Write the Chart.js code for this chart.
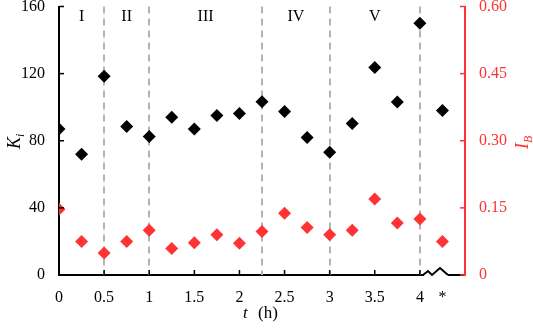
<!DOCTYPE html>
<html><head><meta charset="utf-8">
<script src="https://cdn.jsdelivr.net/npm/chart.js@4/dist/chart.umd.min.js"></script>
<style>html,body{margin:0;padding:0;background:#fff}#wrap{width:533px;height:328px}</style>
</head><body><div id="wrap"><canvas id="c" width="533" height="328"></canvas></div>
<script>
const tValues = [0,0.25,0.5,0.75,1,1.25,1.5,1.75,2,2.25,2.5,2.75,3,3.25,3.5,3.75,4,4.25];
const kiValues = [87,72,118.5,88.5,82.6,94,87,95,96.2,103.3,97.5,82,73.2,90.3,123.6,103.1,150,98];
const ibValues = [0.147,0.075,0.049,0.075,0.100,0.059,0.072,0.090,0.071,0.097,0.138,0.106,0.090,0.100,0.170,0.116,0.125,0.075];
const xTickValues = [0,0.5,1,1.5,2,2.5,3,3.5,4,4.25];
const xTickLabels = ['0','0.5','1','1.5','2','2.5','3','3.5','4','*'];
const kiTicks = [0,40,80,120,160];
const ibTicks = [0,0.15,0.30,0.45,0.60];
const ibTickLabels = ['0','0.15','0.30','0.45','0.60'];
const phaseBoundaries = [0.5,1,2.25,3,4];
const phaseCenters = [0.25,0.75,1.625,2.625,3.5];
const phaseLabels = ['I','II','III','IV','V'];

const RED = '#ff3333';
const FONT = 'Liberation Serif';

const extras = {
  id: 'extras',
  beforeDatasetsDraw(chart) {
    const {ctx, chartArea, scales} = chart;
    ctx.save();
    ctx.strokeStyle = '#b4b4b4';
    ctx.lineWidth = 2;
    ctx.setLineDash([7,5]);
    phaseBoundaries.forEach(v => {
      const x = Math.round(scales.x.getPixelForValue(v));
      ctx.beginPath(); ctx.moveTo(x, chartArea.top); ctx.lineTo(x, chartArea.bottom); ctx.stroke();
    });
    ctx.setLineDash([]);
    ctx.fillStyle = '#000';
    ctx.font = '16px "' + FONT + '"';
    ctx.textAlign = 'center'; ctx.textBaseline = 'middle';
    phaseLabels.forEach((l, i) => {
      ctx.fillText(l, scales.x.getPixelForValue(phaseCenters[i]), 17);
    });
    ctx.restore();
  },
  afterDraw(chart) {
    const {ctx, chartArea, scales} = chart;
    const b = chartArea.bottom;
    ctx.save();
    // inward ticks
    ctx.lineWidth = 1.5;
    ctx.strokeStyle = '#000';
    xTickValues.slice(0, 9).forEach(v => {
      const x = scales.x.getPixelForValue(v);
      ctx.beginPath(); ctx.moveTo(x, b); ctx.lineTo(x, b - 5); ctx.stroke();
    });
    kiTicks.forEach(v => {
      const y = scales.y.getPixelForValue(v);
      ctx.beginPath(); ctx.moveTo(chartArea.left, y); ctx.lineTo(chartArea.left + 5, y); ctx.stroke();
    });
    ctx.strokeStyle = RED;
    ibTicks.forEach(v => {
      const y = scales.y2.getPixelForValue(v);
      ctx.beginPath(); ctx.moveTo(chartArea.right, y); ctx.lineTo(chartArea.right - 5, y); ctx.stroke();
    });
    // axis break
    ctx.fillStyle = '#fff';
    ctx.fillRect(424, b - 2, 24, 4);
    ctx.strokeStyle = '#000';
    ctx.lineWidth = 2;
    ctx.beginPath();
    ctx.moveTo(423, b); ctx.lineTo(428, b - 4); ctx.lineTo(432, b); ctx.lineTo(440, b - 7); ctx.lineTo(448, b);
    ctx.stroke();
    // axis titles
    ctx.fillStyle = '#000';
    ctx.textBaseline = 'alphabetic';
    ctx.save();
    ctx.translate(20, 140);
    ctx.rotate(-Math.PI / 2);
    ctx.textAlign = 'left';
    ctx.font = 'italic 18px "' + FONT + '"';
    const kw = ctx.measureText('K').width;
    ctx.fillText('K', -kw / 2 - 3, 0);
    ctx.font = 'italic 12px "' + FONT + '"';
    ctx.fillText('i', kw / 2 - 3, 4);
    ctx.restore();

    ctx.save();
    ctx.fillStyle = RED;
    ctx.translate(528, 142);
    ctx.rotate(-Math.PI / 2);
    ctx.font = 'italic 18px "' + FONT + '"';
    const iw = ctx.measureText('I').width;
    ctx.fillText('I', -iw / 2 - 4, 0);
    ctx.font = 'italic 12px "' + FONT + '"';
    ctx.fillText('B', iw / 2 - 4, 4);
    ctx.restore();

    ctx.font = 'italic 17px "' + FONT + '"';
    ctx.textAlign = 'left';
    ctx.fillText('t', 243, 318);
    ctx.font = '17px "' + FONT + '"';
    ctx.fillText('(h)', 258, 318);
    ctx.restore();
  }
};

function noPad(s) { s.paddingTop = 0; s.paddingBottom = 0; s.paddingLeft = 0; s.paddingRight = 0; }

new Chart(document.getElementById('c'), {
  type: 'scatter',
  data: {
    datasets: [
      { label: 'Ki', data: tValues.map((t, i) => ({x: t, y: kiValues[i]})), yAxisID: 'y',
        pointStyle: 'rectRot', radius: 6.5, backgroundColor: '#000', borderColor: '#000', borderWidth: 0 },
      { label: 'IB', data: tValues.map((t, i) => ({x: t, y: ibValues[i]})), yAxisID: 'y2',
        pointStyle: 'rectRot', radius: 6.5, backgroundColor: RED, borderColor: RED, borderWidth: 0 }
    ]
  },
  options: {
    responsive: false,
    animation: false,
    events: [],
    layout: { padding: { top: 5, left: 0, right: 0, bottom: 0 } },
    plugins: { legend: { display: false }, tooltip: { enabled: false } },
    scales: {
      x: {
        type: 'linear', min: 0, max: 4.5,
        afterBuildTicks(s) { s.ticks = xTickValues.map(v => ({value: v})); },
        afterFit(s) { s.height = 53; noPad(s); },
        grid: { display: false, drawTicks: false },
        border: { display: true, color: '#000', width: 2 },
        ticks: { padding: 13, color: '#000', font: { family: FONT, size: 16 },
          callback: (v) => { const i = xTickValues.indexOf(v); return i >= 0 ? xTickLabels[i] : ''; } }
      },
      y: {
        position: 'left', min: 0, max: 160,
        afterBuildTicks(s) { s.ticks = kiTicks.map(v => ({value: v})); },
        afterFit(s) { s.width = 59; noPad(s); },
        grid: { display: false, drawTicks: false },
        border: { display: true, color: '#000', width: 2 },
        ticks: { padding: 14, color: '#000', font: { family: FONT, size: 16 } }
      },
      y2: {
        position: 'right', min: 0, max: 0.6,
        afterBuildTicks(s) { s.ticks = ibTicks.map(v => ({value: v})); },
        afterFit(s) { s.width = 68; noPad(s); },
        grid: { display: false, drawTicks: false },
        border: { display: true, color: RED, width: 2 },
        ticks: { padding: 14, color: RED, font: { family: FONT, size: 16 },
          callback: (v) => { const i = ibTicks.indexOf(v); return i >= 0 ? ibTickLabels[i] : ''; } }
      }
    }
  },
  plugins: [extras]
});
</script></body></html>
